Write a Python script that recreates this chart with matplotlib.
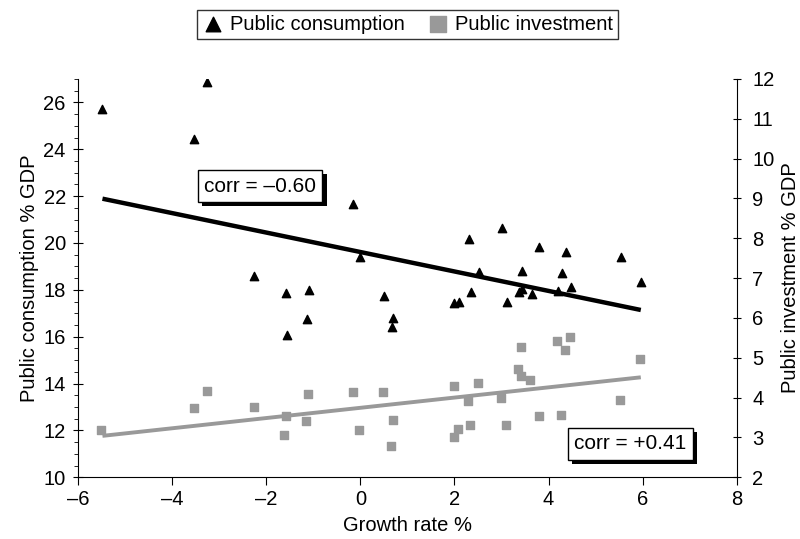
import matplotlib.pyplot as plt
import matplotlib.patheffects as pe
from matplotlib.ticker import MultipleLocator

plt.rcParams['font.family'] = ['Liberation Sans', 'DejaVu Sans']

# public consumption (% GDP) vs growth rate
cons_x = [-5.48, -3.25, -3.53, -0.15, -0.01, -2.25, -1.59, -1.09, -1.14, -1.56,
          0.50, 0.70, 0.68, 2.30, 3.01, 3.80, 4.37, 5.53, 2.53, 3.43,
          4.28, 5.96, 2.35, 3.38, 3.43, 3.64, 4.20, 4.48, 2.00, 2.09, 3.12]
cons_y = [25.71, 26.87, 24.44, 21.66, 19.42, 18.60, 17.85, 18.01, 16.77, 16.06,
          17.73, 16.81, 16.41, 20.17, 20.64, 19.81, 19.62, 19.39, 18.75, 18.79,
          18.73, 18.32, 17.91, 17.90, 18.02, 17.84, 17.96, 18.13, 17.45, 17.48, 17.49]

# public investment (% GDP) vs growth rate
inv_x = [-5.51, -3.53, -3.26, -2.26, -1.58, -1.62, -1.11, -1.15, -0.15, -0.03,
         0.48, 0.70, 0.65, 2.00, 2.50, 2.29, 2.99, 2.08, 2.00, 2.33,
         3.10, 3.79, 4.27, 5.52, 5.95, 3.42, 4.18, 4.46, 4.35, 3.36, 3.42, 3.61]
inv_y = [3.18, 3.73, 4.16, 3.77, 3.53, 3.06, 4.08, 3.41, 4.15, 3.18,
         4.15, 3.45, 2.78, 4.28, 4.36, 3.91, 3.99, 3.21, 3.01, 3.31,
         3.31, 3.54, 3.56, 3.93, 4.96, 5.26, 5.42, 5.51, 5.20, 4.72, 4.54, 4.44]

# fitted lines (end points)
fit_x = [-5.48, 5.96]
cons_fit = [21.89, 17.14]
inv_fit = [3.04, 4.51]

gray = '#999999'
fs = 14.5

fig = plt.figure(figsize=(8, 5.39), dpi=100)
ax = fig.add_axes([0.0975, 0.1145, 0.8235, 0.739])
ax2 = ax.twinx()

ax.plot(fit_x, cons_fit, color='black', lw=3.2, solid_capstyle='butt', zorder=2)
ax.scatter(cons_x, cons_y, marker='^', s=36, color='black', zorder=3)
ax2.plot(fit_x, inv_fit, color=gray, lw=2.8, solid_capstyle='butt', zorder=2)
ax2.scatter(inv_x, inv_y, marker='s', s=28, color=gray, zorder=3)

ax.set_xlim(-6, 8)
ax.set_ylim(10, 27)
ax2.set_ylim(2, 12)
ax.set_xticks(range(-6, 9, 2))
ax.set_xticklabels([str(v).replace('-', '\u2013') for v in range(-6, 9, 2)])
ax.set_yticks(range(10, 27, 2))
ax.yaxis.set_minor_locator(MultipleLocator(0.5))
ax2.set_yticks(range(2, 13))

for a in (ax, ax2):
    a.spines['top'].set_visible(False)
ax.spines['right'].set_visible(False)
ax2.spines['left'].set_visible(False)
ax2.spines['bottom'].set_visible(False)

ax.tick_params(axis='x', direction='out', length=6, labelsize=fs, pad=3)
ax.tick_params(axis='y', which='major', direction='inout', length=7.5, labelsize=fs, pad=5)
ax.tick_params(axis='y', which='minor', direction='out', length=3)
ax2.tick_params(axis='y', which='major', direction='inout', length=6, labelsize=fs, pad=8)

ax.set_xlabel('Growth rate %', fontsize=fs, labelpad=5)
ax.set_ylabel('Public consumption % GDP', fontsize=fs, labelpad=3)
ax2.set_ylabel('Public investment % GDP', fontsize=fs, labelpad=5)

shadow = [pe.SimplePatchShadow(offset=(3, -3), shadow_rgbFace='black', alpha=1), pe.Normal()]
t1 = ax.text(-2.13, 22.43, 'corr = \u20130.60', fontsize=15, ha='center', va='center',
             bbox=dict(boxstyle='square,pad=0.3', fc='white', ec='black', lw=1), zorder=5)
t2 = ax2.text(5.74, 2.84, 'corr = +0.41', fontsize=15, ha='center', va='center',
              bbox=dict(boxstyle='square,pad=0.3', fc='white', ec='black', lw=1), zorder=5)
for t in (t1, t2):
    t.get_bbox_patch().set_path_effects(shadow)

h1 = ax.scatter([], [], marker='^', s=110, color='black')
h2 = ax.scatter([], [], marker='s', s=130, color=gray)
leg = fig.legend([h1, h2], ['Public consumption', 'Public investment'], loc='center',
                 bbox_to_anchor=(0.509, 0.955), ncol=2, fontsize=fs, frameon=True,
                 fancybox=False, edgecolor='black', handletextpad=0.3, columnspacing=1.1,
                 borderpad=0.25, handlelength=1.1)
leg.get_frame().set_linewidth(1)

plt.savefig('out.png', dpi=100)
